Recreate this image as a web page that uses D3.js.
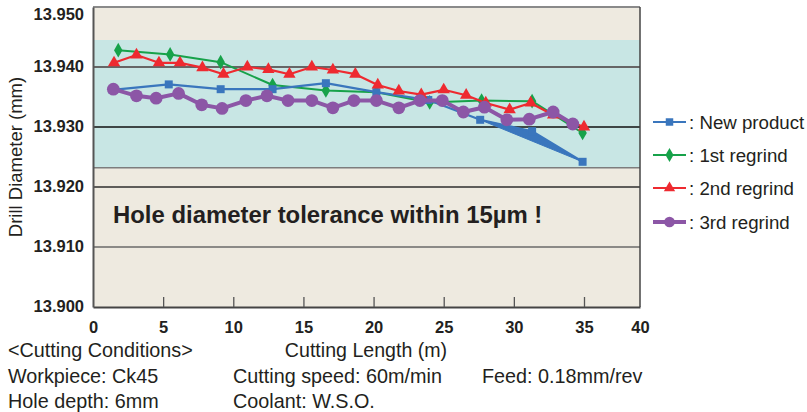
<!DOCTYPE html>
<html><head><meta charset="utf-8">
<script src="https://cdn.jsdelivr.net/npm/d3@7"></script>
<style>
body{margin:0;background:#fff}
svg{display:block}
text{font-family:"Liberation Sans",Arial,Helvetica,sans-serif;fill:#231f20}
</style>
</head><body><svg id="c" width="807" height="412"></svg>
<script>
// ---- data ----
const xTicks = [0, 5, 10, 15, 20, 25, 30, 35, 40];
const yTicks = [13.900, 13.910, 13.920, 13.930, 13.940, 13.950];
const toleranceBand = [13.9232, 13.9445];
const seriesNames = ["New product", "1st regrind", "2nd regrind", "3rd regrind"];

const newProductX = [1.4, 5.4, 9.1, 12.8, 16.6, 20.2, 23.9, 27.6, 31.3, 34.9];
const newProductY = [13.9362, 13.9371, 13.9363, 13.9363, 13.9373, 13.9358, 13.9345, 13.9312, 13.9293, 13.9242];

const regrind1X = [1.8, 5.5, 9.1, 12.8, 16.6, 20.2, 24.0, 27.7, 31.3, 34.9];
const regrind1Y = [13.9428, 13.9421, 13.9408, 13.9370, 13.9361, 13.9358, 13.9341, 13.9344, 13.9343, 13.9290];

const regrind2X = [1.5, 3.1, 4.7, 6.2, 7.8, 9.3, 11.0, 12.5, 14.0, 15.6, 17.1, 18.7, 20.3, 21.8, 23.4, 25.0, 26.6, 28.0, 29.7, 31.2, 32.8, 35.0];
const regrind2Y = [13.9407, 13.9420, 13.9407, 13.9407, 13.9399, 13.9388, 13.9400, 13.9396, 13.9388, 13.9400, 13.9395, 13.9388, 13.9370, 13.9360, 13.9354, 13.9362, 13.9353, 13.9340, 13.9329, 13.9340, 13.9320, 13.9300];

const regrind3X = [1.45, 3.1, 4.5, 6.1, 7.75, 9.2, 10.9, 12.4, 13.9, 15.6, 17.1, 18.6, 20.2, 21.8, 23.3, 24.9, 26.4, 27.9, 29.5, 31.1, 32.8, 34.2];
const regrind3Y = [13.9363, 13.9352, 13.9348, 13.9356, 13.9337, 13.9331, 13.9344, 13.9352, 13.9344, 13.9344, 13.9332, 13.9344, 13.9344, 13.9332, 13.9344, 13.9344, 13.9325, 13.9333, 13.9312, 13.9313, 13.9325, 13.9305];

const annotation = "Hole diameter tolerance within 15µm !";
const xTitle = "Cutting Length (m)";
const yTitle = "Drill Diameter (mm)";
const conditionLines = [
  ["<Cutting Conditions>"],
  ["Workpiece: Ck45", "Cutting speed: 60m/min", "Feed: 0.18mm/rev"],
  ["Hole depth: 6mm", "Coolant: W.S.O."]
];

// ---- build ----
const svg = d3.select("#c");
const L = 93, R = 640, T = 7, B = 307;
const x = d3.scaleLinear().domain([0, 35, 40]).range([L, 584, R]);
const y = d3.scaleLinear().domain([13.900, 13.950]).range([B, T]);

const series = [
  {name: seriesNames[0], xs: newProductX, ys: newProductY, color: "#3a76bd", w: 2.2, sym: d3.symbolSquare, size: 64},
  {name: seriesNames[1], xs: regrind1X, ys: regrind1Y, color: "#17a24a", w: 2, sym: d3.symbolDiamond, size: 62},
  {name: seriesNames[2], xs: regrind2X, ys: regrind2Y, color: "#ee2a30", w: 2.2, sym: d3.symbolTriangle, size: 66},
  {name: seriesNames[3], xs: regrind3X, ys: regrind3Y, color: "#8c56a6", w: 4, sym: d3.symbolCircle, size: 128}
];

// backgrounds
svg.append("rect").attr("x", L).attr("y", T).attr("width", R - L).attr("height", B - T).attr("fill", "#eeeae0");
svg.append("rect").attr("x", L).attr("y", y(toleranceBand[1])).attr("width", R - L)
  .attr("height", y(toleranceBand[0]) - y(toleranceBand[1])).attr("fill", "#c8e6e4");
svg.append("line").attr("x1", L).attr("x2", R).attr("y1", y(toleranceBand[0])).attr("y2", y(toleranceBand[0]))
  .attr("stroke", "#7d7d7d").attr("stroke-width", 1.6);

// grid lines
const gridStyle = {13.91: ["#6a6a6a", 1.4], 13.92: ["#2e2e2e", 1.5], 13.93: ["#111", 1.3], 13.94: ["#666", 1.8]};
yTicks.filter(v => v > 13.9001 && v < 13.9499).forEach(v => {
  const st = gridStyle[Math.round(v * 100) / 100] || ["#555", 1];
  svg.append("line").attr("x1", L).attr("x2", R).attr("y1", y(v)).attr("y2", y(v))
    .attr("stroke", st[0]).attr("stroke-width", st[1]);
});

// frame
svg.append("line").attr("x1", L).attr("x2", R).attr("y1", T).attr("y2", T).attr("stroke", "#8a8a8a").attr("stroke-width", 2);
svg.append("line").attr("x1", R).attr("x2", R).attr("y1", T).attr("y2", B).attr("stroke", "#444").attr("stroke-width", 1.5);

// x axis
const xAxis = svg.append("g").attr("transform", `translate(0,${B})`)
  .call(d3.axisBottom(x).tickValues(xTicks).tickFormat(d3.format("d")).tickSizeInner(-10).tickSizeOuter(0).tickPadding(14));
xAxis.select(".domain").attr("stroke", "#444").attr("stroke-width", 2);
xAxis.selectAll(".tick line").attr("stroke", "#555").attr("stroke-width", 1.3)
  .attr("display", d => (d === 0 || d === 40) ? "none" : null);
xAxis.selectAll(".tick text").attr("font-size", "16.5px").attr("font-weight", "bold")
  .attr("font-family", '"Liberation Sans",Arial,sans-serif').attr("fill", "#231f20");

// y axis
const yAxis = svg.append("g").attr("transform", `translate(${L},0)`)
  .call(d3.axisLeft(y).tickValues(yTicks).tickFormat(d3.format(".3f")).tickSize(0).tickPadding(9));
yAxis.select(".domain").attr("stroke", "#555").attr("stroke-width", 2);
yAxis.selectAll(".tick").attr("transform", d => `translate(0,${Math.max(y(d), 15)})`);
yAxis.selectAll(".tick text").attr("font-size", "16.5px").attr("font-weight", "bold")
  .attr("font-family", '"Liberation Sans",Arial,sans-serif').attr("fill", "#231f20");

// annotation
svg.append("text").attr("x", 113).attr("y", 223).attr("font-size", "23.9px").attr("font-weight", "bold").text(annotation);

// series
const line = d3.line().x(d => x(d[0])).y(d => y(d[1]));
const order = [1, 0, 2, 3];
order.forEach(i => {
  const s = series[i];
  const pts = s.xs.map((v, j) => [v, s.ys[j]]);
  const g = svg.append("g");
  if (i === 0) {
    // the filled wedge on the last segments of the new-product line
    g.append("path").attr("d", line(pts.slice(-3)) + "Z").attr("fill", s.color).attr("stroke", s.color)
      .attr("stroke-width", 1).attr("stroke-linejoin", "round");
  }
  g.append("path").attr("d", line(pts)).attr("fill", "none").attr("stroke", s.color)
    .attr("stroke-width", s.w).attr("stroke-linejoin", "round");
  g.selectAll(".m").data(pts).enter().append("path")
    .attr("transform", d => `translate(${x(d[0])},${y(d[1])})`)
    .attr("d", d3.symbol().type(s.sym).size(s.size)).attr("fill", s.color);
});

// legend
const legY = [122, 155, 188, 222];
series.forEach((s, i) => {
  const g = svg.append("g").attr("transform", `translate(0,${legY[i]})`);
  g.append("line").attr("x1", 653).attr("x2", 686).attr("y1", 0).attr("y2", 0)
    .attr("stroke", s.color).attr("stroke-width", i === 3 ? 4 : 2.2);
  g.append("path").attr("transform", "translate(669.5,0)")
    .attr("d", d3.symbol().type(s.sym).size(i === 3 ? 90 : 56)).attr("fill", s.color);
  g.append("text").attr("x", 689).attr("y", 6.5).attr("font-size", "18.7px").text(": " + s.name);
});

// titles
svg.append("text").attr("x", 366).attr("y", 357).attr("text-anchor", "middle").attr("font-size", "19.6px").text(xTitle);
svg.append("text").attr("transform", "translate(22,157) rotate(-90)").attr("text-anchor", "middle")
  .attr("font-size", "18.5px").text(yTitle);

// conditions
const colX = [8, 233, 482];
const rowY = [357, 383, 408];
conditionLines.forEach((row, r) => row.forEach((t, c) => {
  svg.append("text").attr("x", colX[c]).attr("y", rowY[r]).attr("font-size", "19.8px").text(t);
}));
</script>
</body></html>
